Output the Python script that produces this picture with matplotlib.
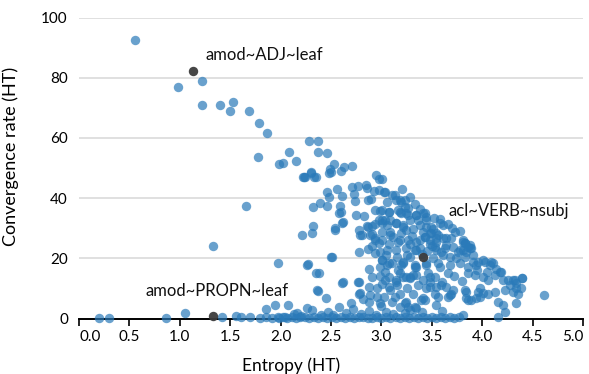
import matplotlib

matplotlib.use("Agg")
import matplotlib.pyplot as plt

plt.rcParams["font.family"] = ["Lato", "DejaVu Sans"]

# entropy / convergence rate pairs
upper_x = [0.56, 0.98, 1.22, 1.22, 1.40, 1.53, 1.50, 1.69, 1.79, 1.87, 1.78, 2.08,
           1.98, 2.02, 2.15, 2.22, 2.28, 2.37, 2.37, 2.46, 2.53, 2.63, 2.71, 2.48,
           2.50, 2.60, 2.30, 2.24, 2.35, 2.95, 2.98, 2.71, 2.77, 2.85, 2.86, 2.56,
           2.46, 2.48, 2.61, 2.73, 2.93, 2.98, 3.03, 3.11, 3.18, 2.87, 2.90, 2.74,
           2.39, 2.32, 2.46, 2.59, 2.60, 2.58, 2.75, 2.83, 2.94, 2.99, 3.08, 3.18,
           3.26, 2.62, 2.54, 2.32, 1.66, 1.33, 1.97, 2.21, 2.31, 2.54, 2.61, 2.79,
           2.86, 2.91, 2.94, 2.91, 2.94, 3.01, 2.78, 2.87, 2.50, 2.27, 2.35, 2.62,
           2.77, 2.88, 2.91, 2.79, 2.37, 2.45, 2.58, 2.26, 2.31, 2.16, 2.23, 2.30,
           2.33, 2.49]
upper_y = [92.6, 77.0, 78.9, 70.8, 71.0, 71.8, 68.8, 68.9, 64.8, 61.6, 53.7, 55.3,
           51.2, 51.6, 52.2, 46.9, 58.9, 58.9, 55.3, 54.9, 51.2, 50.2, 50.8, 48.2,
           48.8, 48.9, 48.8, 46.9, 46.9, 47.6, 46.2, 43.8, 44.1, 44.4, 43.3, 43.0,
           41.9, 40.5, 40.8, 41.4, 42.4, 42.7, 42.1, 41.0, 39.4, 39.4, 39.6, 39.0,
           38.3, 36.9, 37.5, 37.4, 35.5, 34.9, 34.4, 34.2, 36.0, 35.8, 35.5, 35.5,
           36.6, 32.0, 30.0, 30.7, 37.3, 24.1, 18.3, 27.7, 28.5, 29.4, 31.8, 27.7,
           30.7, 30.7, 31.4, 28.1, 26.6, 28.8, 22.2, 23.0, 20.3, 18.0, 15.2, 12.0,
           12.1, 16.3, 13.7, 8.4, 9.2, 6.7, 3.9, 3.4, 2.8, 1.9, 46.9, 48.5,
           46.9, 49.8]

cluster_x = [3.01, 3.04, 3.13, 3.14, 3.06, 3.19, 3.23, 3.16, 3.08, 3.01, 3.19, 3.26,
             3.34, 3.43, 3.44, 3.36, 3.61, 3.51, 3.44, 3.38, 3.31, 3.21, 3.14, 3.06,
             3.01, 3.09, 3.19, 3.24, 3.41, 3.48, 3.56, 3.43, 3.61, 3.69, 3.73, 3.81,
             3.01, 3.08, 3.16, 3.26, 3.34, 3.48, 3.54, 3.06, 3.14, 3.24, 3.33, 3.38,
             3.54, 3.63, 3.71, 3.78, 3.86, 3.89, 3.51, 3.61, 3.68, 3.74, 3.83, 3.91,
             4.01, 4.09, 3.01, 3.11, 3.21, 3.33, 3.44, 3.58, 3.68, 3.78, 3.86, 3.94,
             3.83, 3.88, 3.84, 3.81, 3.91, 3.96, 4.03, 4.08, 4.14, 4.18, 3.86, 3.93,
             4.01, 4.06, 4.13, 4.21, 4.33, 4.39, 4.34, 3.83, 3.96, 3.98, 4.06, 4.13,
             4.23, 4.34, 4.36, 4.61, 3.86, 3.94, 4.16, 4.34, 4.23, 4.16, 3.81, 3.81,
             3.23, 3.24, 3.34, 3.49, 3.64, 3.54, 3.83, 3.88, 3.64, 3.76, 4.11, 4.19,
             4.26, 4.31, 4.39, 4.38, 4.31, 4.28, 4.21, 4.01, 3.84, 3.98, 3.24, 3.31,
             3.41, 3.48, 3.54, 3.64, 3.71, 3.68, 3.56, 3.41, 3.26, 3.34, 3.23, 3.06,
             3.19, 3.33, 3.56, 3.04, 3.14, 3.18, 3.28, 3.34, 3.46, 3.53, 3.66, 3.44,
             3.59, 3.69, 3.66, 3.84, 3.89, 3.39, 3.23, 3.33, 3.28, 3.18, 3.03, 2.78,
             2.87, 2.89, 2.81, 2.94, 2.91, 2.94, 2.99, 3.01, 2.99, 3.04, 3.08, 2.99,
             3.01, 3.08, 3.14, 3.21, 3.16, 3.08, 3.09, 3.13, 2.96, 2.96, 2.99, 2.88,
             2.89, 2.88, 2.78, 2.78, 2.61, 2.51, 2.38, 2.36, 2.26, 3.09, 3.01, 3.28,
             3.41, 3.44, 3.49, 3.54, 3.58, 3.48, 3.53, 3.59, 3.09, 3.18, 3.28, 3.34,
             3.43, 3.28, 3.21, 3.34, 3.44, 3.48, 3.28, 3.36, 3.48, 3.53, 3.31, 3.24,
             3.43, 3.54, 3.18, 3.11, 2.98, 3.04, 3.14, 3.21,
             3.20, 3.28, 3.33, 3.38, 3.52, 3.58, 3.66, 3.70, 3.78, 3.50, 3.45, 3.40,
             3.25, 3.15, 3.05, 2.98, 3.12, 3.30, 3.38, 3.95, 4.05, 3.72, 3.80, 3.60,
             3.25, 3.15, 2.70, 2.82, 3.00, 3.40, 3.60]
cluster_y = [46.2, 42.1, 41.0, 39.3, 38.8, 38.8, 37.1, 36.0, 35.5, 36.0, 34.9, 34.3,
             34.3, 34.9, 33.8, 32.7, 31.0, 29.9, 30.5, 31.0, 29.9, 31.0, 31.6, 31.0,
             31.6, 28.8, 28.3, 29.4, 28.8, 28.3, 27.7, 27.2, 26.6, 26.6, 28.8, 25.5,
             26.1, 24.9, 25.5, 26.1, 25.5, 24.9, 25.5, 22.7, 22.7, 23.3, 22.7, 23.3,
             22.7, 23.3, 23.8, 22.7, 23.8, 23.3, 20.0, 21.1, 20.3, 20.0, 20.5, 21.1,
             19.4, 18.8, 19.4, 18.3, 18.8, 17.7, 17.7, 17.2, 17.7, 18.3, 17.2, 17.7,
             25.0, 23.3, 22.2, 22.7, 18.9, 18.9, 18.9, 17.7, 16.6, 15.5, 15.0, 14.4,
             13.9, 12.8, 14.4, 12.8, 12.8, 13.3, 11.7, 9.4, 8.9, 10.0, 8.3, 8.9,
             9.4, 10.0, 8.3, 7.8, 6.1, 6.7, 5.6, 5.0, 2.2, 0.6, 1.1, 26.1,
             39.4, 34.9, 34.4, 28.3, 24.4, 26.6, 25.0, 24.4, 26.6, 22.2, 18.3, 15.5,
             12.8, 12.8, 13.3, 10.0, 8.9, 11.1, 4.5, 8.4, 6.7, 7.2, 13.9, 14.4,
             12.8, 12.2, 10.6, 10.6, 9.5, 7.8, 7.2, 6.7, 3.9, 3.4, 1.7, 17.7,
             17.7, 17.2, 18.3, 12.8, 12.2, 15.0, 13.3, 14.4, 15.0, 13.9, 15.0, 10.0,
             11.1, 8.3, 7.2, 8.9, 6.1, 6.3, 5.0, 3.9, 2.8, 3.9, 7.2, 29.4,
             30.5, 27.7, 27.7, 26.0, 24.0, 21.6, 22.2, 19.4, 17.2, 15.5, 13.9, 14.1,
             11.6, 10.5, 12.7, 13.9, 16.1, 18.3, 9.4, 7.2, 10.0, 7.2, 5.2, 10.5,
             7.7, 5.5, 12.2, 8.3, 11.9, 20.5, 15.2, 9.4, 17.7, 32.7, 32.7, 32.7,
             34.9, 32.7, 30.5, 28.3, 31.6, 26.0, 23.8, 22.2, 27.7, 26.0, 24.9, 22.7,
             27.1, 20.5, 18.3, 17.2, 18.3, 13.9, 13.9, 11.1, 10.5, 8.3, 8.3, 5.5,
             6.1, 4.4, 8.3, 5.5, 32.7, 32.7, 31.6, 30.5,
             43.0, 40.5, 38.0, 36.5, 33.5, 33.0, 31.5, 30.0, 29.0, 24.0, 22.5, 21.5,
             21.0, 20.5, 21.0, 25.0, 27.0, 27.5, 26.0, 16.0, 15.5, 14.0, 12.5, 12.0,
             10.0, 11.0, 5.0, 6.5, 4.0, 2.0, 2.5]

low_x = [0.20, 0.30, 0.86, 1.05, 1.42, 1.56, 1.61, 1.70, 1.86, 1.94, 2.07, 1.98,
         2.20, 2.40, 2.47, 2.52, 2.65, 2.72, 2.80, 2.88, 2.95, 3.05, 3.12,
         1.80, 1.86, 1.91, 1.97, 2.02, 2.06, 2.11, 2.15, 2.19, 2.24, 2.28, 2.33,
         2.37, 2.42, 2.46, 2.51, 2.55, 2.60, 2.64, 2.69, 2.73, 2.78, 2.82, 2.87,
         2.91, 2.96, 3.00, 3.05, 3.09, 3.14, 3.18, 3.23, 3.27, 3.32, 3.36, 3.41,
         3.45, 3.50, 3.54, 3.59, 3.63, 3.68, 3.72, 3.77, 2.13, 2.04]
low_y = [0.3, 0.3, 0.3, 1.7, 0.5, 0.9, 0.4, 0.4, 3.0, 4.4, 4.4, 0.3,
         0.9, 1.2, 2.0, 1.0, 1.8, 3.0, 1.5, 2.4, 1.2, 2.2, 1.5,
         0.3, 0.5, 0.2, 0.4, 0.6, 0.3, 0.5, 0.2, 0.4, 0.6, 0.3, 0.5,
         0.2, 0.4, 0.3, 0.6, 0.2, 0.4, 0.3, 0.5, 0.2, 0.4, 0.6, 0.3,
         0.2, 0.5, 0.3, 0.4, 0.2, 0.5, 0.3, 0.4, 0.2, 0.6, 0.3, 0.4,
         0.2, 0.5, 0.3, 0.4, 0.2, 0.5, 0.3, 0.4, 1.6, 0.5]

labelled_names = ["amod~ADJ~leaf", "amod~PROPN~leaf", "acl~VERB~nsubj"]
labelled_x = [1.13, 1.33, 3.41]
labelled_y = [82.2, 0.8, 20.4]
label_pos = [(1.25, 87.5), (0.66, 9.1), (3.67, 35.7)]

x_ticks = [0.0, 0.5, 1.0, 1.5, 2.0, 2.5, 3.0, 3.5, 4.0, 4.5, 5.0]
y_ticks = [0, 20, 40, 60, 80, 100]

all_x = upper_x + cluster_x + low_x
all_y = upper_y + cluster_y + low_y

fig = plt.figure(figsize=(5.89, 3.74), dpi=100)
ax = fig.add_axes([79 / 589, 55.5 / 374, 504 / 589, 301 / 374])

ax.scatter(all_x, all_y, s=46, color="#2a7ab9", alpha=0.7, linewidths=0,
           clip_on=False, zorder=3)
ax.scatter(labelled_x, labelled_y, s=46, color="#3c3c3c", alpha=0.95,
           linewidths=0, clip_on=False, zorder=4)
for name, (tx, ty) in zip(labelled_names, label_pos):
    ax.text(tx, ty, name, fontsize=12, va="center", ha="left", color="#111111",
            zorder=5)

ax.set_xlim(0, 5.0)
ax.set_ylim(0, 100)
ax.set_xticks(x_ticks)
ax.set_xticklabels([f"{t:.1f}" for t in x_ticks])
# flush first / last labels to the axis ends
tick_labels = ax.get_xticklabels()
tick_labels[0].set_horizontalalignment("left")
tick_labels[-1].set_horizontalalignment("right")
ax.set_yticks(y_ticks)
ax.yaxis.grid(True, color="#dddddd", linewidth=1.3)
ax.set_axisbelow(True)
for side in ("top", "right", "left"):
    ax.spines[side].set_visible(False)
ax.spines["bottom"].set_linewidth(1.4)
ax.spines["bottom"].set_zorder(2)
ax.tick_params(axis="x", length=5, width=1.2, labelsize=11, pad=3)
ax.tick_params(axis="y", length=0, labelsize=11, pad=8)
ax.set_xlabel("Entropy (HT)", fontsize=12.5, labelpad=4)
ax.xaxis.set_label_coords(212 / 504, -0.13)
ax.set_ylabel("Convergence rate (HT)", fontsize=13, labelpad=8)
ax.yaxis.set_label_coords(-0.12, 0.537)

fig.savefig("out.png", dpi=100)
